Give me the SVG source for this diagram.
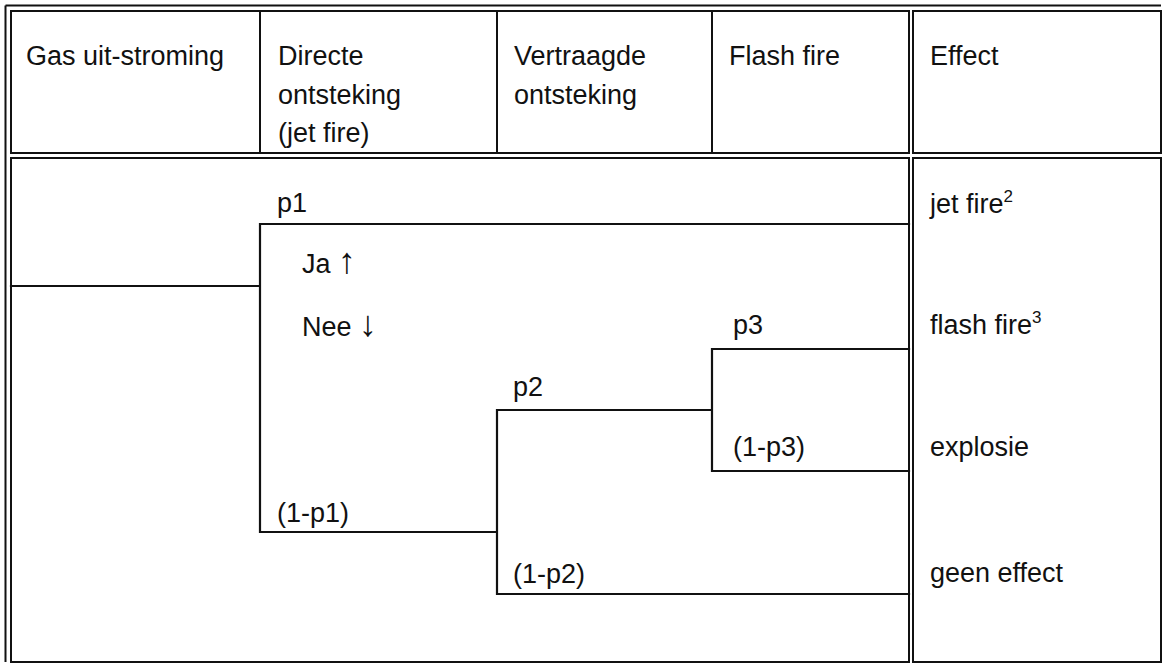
<svg xmlns="http://www.w3.org/2000/svg" width="1163" height="664" viewBox="0 0 1163 664">
<style>
.frame{fill:none;stroke:#111;stroke-width:2}
.edge{fill:none;stroke:#111;stroke-width:2.2;stroke-linecap:square}
text{font-family:"Liberation Sans",Arial,sans-serif;font-size:27px;fill:#111}
.sup{font-size:17px}
.arr{font-size:36px}
</style>
<rect width="1163" height="664" fill="#fff"/>
<g id="table">
<path class="frame" d="M5.5 5.5H1161M5.5 5.5V662"/>
<rect class="frame" x="11" y="11" width="249" height="142"/>
<rect class="frame" x="260" y="11" width="237" height="142"/>
<rect class="frame" x="497" y="11" width="215" height="142"/>
<rect class="frame" x="712" y="11" width="197" height="142"/>
<rect class="frame" x="913" y="11" width="248" height="142"/>
<rect class="frame" x="11" y="158" width="898" height="504"/>
<rect class="frame" x="913" y="158" width="248" height="504"/>
</g>
<g id="header">
<text x="26" y="65">Gas uit-stroming</text>
<text x="278" y="65">Directe</text>
<text x="278" y="104">ontsteking</text>
<text x="278" y="142">(jet fire)</text>
<text x="514" y="65">Vertraagde</text>
<text x="514" y="104">ontsteking</text>
<text x="729" y="65">Flash fire</text>
<text x="930" y="65">Effect</text>
</g>
<g id="connectors">
<path class="edge" d="M11 286H260M260 224V532M260 224H909M260 532H497M497 410V594M497 410H712M497 594H909M712 349V471M712 349H909M712 471H909"/>
</g>
<g id="labels">
<text x="277" y="212">p1</text>
<text x="302" y="273">Ja <tspan class="arr">↑</tspan></text>
<text x="302" y="336">Nee <tspan class="arr">↓</tspan></text>
<text x="733" y="334">p3</text>
<text x="513" y="396">p2</text>
<text x="733" y="456">(1-p3)</text>
<text x="277" y="522">(1-p1)</text>
<text x="513" y="583">(1-p2)</text>
</g>
<g id="effects">
<text x="930" y="213">jet fire<tspan class="sup" dy="-11">2</tspan></text>
<text x="930" y="334">flash fire<tspan class="sup" dy="-11">3</tspan></text>
<text x="930" y="456">explosie</text>
<text x="930" y="582">geen effect</text>
</g>
</svg>
